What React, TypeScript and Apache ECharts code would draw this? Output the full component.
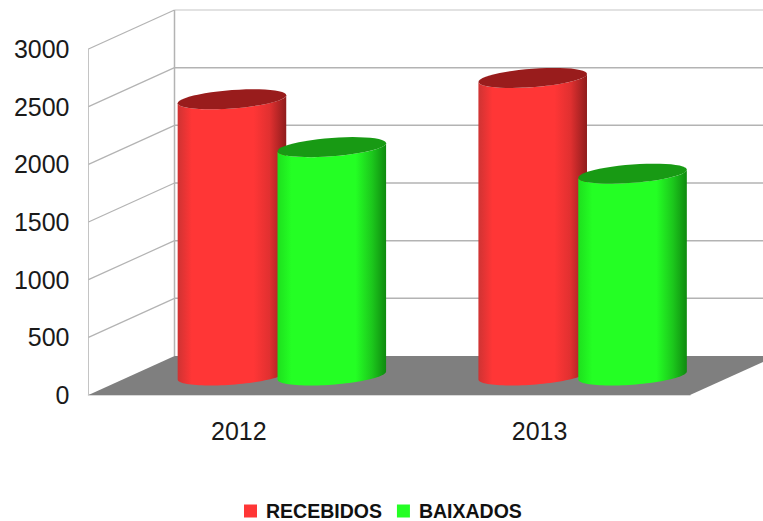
import React, { useEffect, useRef } from "react";
import * as echarts from "echarts";

const categories = ["2012", "2013"];
const yTicks = [0, 500, 1000, 1500, 2000, 2500, 3000];
const recebidos = [2395, 2580];
const baixados = [1980, 1750];

const DEPTH_X = 86;
const DEPTH_Y = -39;
const SLOT_SHIFT = 0.166;
const HALF_WIDTH = 0.1805;
const SLANT = 4;
const ROUND = 9.2;

function ellipsePoints(cx: number, cy: number, hw: number, from: number, to: number) {
  const pts: number[][] = [];
  const n = 48;
  for (let i = 0; i <= n; i++) {
    const t = from + ((to - from) * i) / n;
    pts.push([cx + hw * Math.cos(t), cy - SLANT * Math.cos(t) + ROUND * Math.sin(t)]);
  }
  return pts;
}

function cylinder(side: number, stops: any[], topColor: string) {
  return (params: any, api: any) => {
    const band = api.size([1, 0])[0];
    const top = api.coord([api.value(0), api.value(1)]);
    const base = api.coord([api.value(0), 0]);
    const cx = top[0] + DEPTH_X / 2 + side * SLOT_SHIFT * band;
    const hw = HALF_WIDTH * band;
    const yTop = top[1] + DEPTH_Y / 2;
    const yBase = base[1] + DEPTH_Y / 2;
    const body = [
      ...ellipsePoints(cx, yBase, hw, Math.PI, 0),
      ...ellipsePoints(cx, yTop, hw, 0, Math.PI),
    ];
    return {
      type: "group",
      children: [
        {
          type: "polygon",
          shape: { points: body },
          style: { fill: new echarts.graphic.LinearGradient(0, 0, 1, 0, stops) },
        },
        {
          type: "polygon",
          shape: { points: ellipsePoints(cx, yTop, hw, 0, Math.PI * 2) },
          style: { fill: topColor },
        },
      ],
    };
  };
}

function walls(params: any, api: any) {
  const cs = params.coordSys;
  const v = api.value(1);
  const y = api.coord([0, v])[1];
  const left = cs.x;
  const right = cs.x + cs.width;
  const line = "#b3b3b3";
  const children: any[] = [];
  if (v === 0) {
    children.push({
      type: "polygon",
      shape: {
        points: [
          [left, y],
          [right, y],
          [right + DEPTH_X, y + DEPTH_Y],
          [left + DEPTH_X, y + DEPTH_Y],
        ],
      },
      style: { fill: "#7f7f7f" },
    });
  } else {
    children.push({
      type: "line",
      shape: { x1: left, y1: y, x2: left + DEPTH_X, y2: y + DEPTH_Y },
      style: { stroke: line, lineWidth: 1.2 },
    });
    children.push({
      type: "line",
      shape: { x1: left + DEPTH_X, y1: y + DEPTH_Y, x2: right + DEPTH_X, y2: y + DEPTH_Y },
      style: { stroke: v === 3000 ? "#d9d9d9" : line, lineWidth: 1.5 },
    });
  }
  if (v === 3000) {
    const y0 = api.coord([0, 0])[1];
    children.push({
      type: "line",
      shape: { x1: left + DEPTH_X, y1: y + DEPTH_Y, x2: left + DEPTH_X, y2: y0 + DEPTH_Y },
      style: { stroke: line, lineWidth: 1.5 },
    });
  }
  return { type: "group", children };
}

const redStops = [
  { offset: 0, color: "#cf3333" },
  { offset: 0.13, color: "#ff3636" },
  { offset: 0.7, color: "#ff3636" },
  { offset: 0.85, color: "#e03030" },
  { offset: 1, color: "#8f1c1c" },
];
const greenStops = [
  { offset: 0, color: "#1ee01e" },
  { offset: 0.13, color: "#24ff24" },
  { offset: 0.72, color: "#24ff24" },
  { offset: 0.87, color: "#1cc81c" },
  { offset: 1, color: "#0f8a0f" },
];

export default function App() {
  const ref = useRef<HTMLDivElement>(null);
  useEffect(() => {
    const chart = echarts.init(ref.current!, undefined, { renderer: "svg" });
    chart.setOption({
      animation: false,
      backgroundColor: "#ffffff",
      grid: { left: 88.5, right: 73, top: 49, bottom: 126 },
      xAxis: {
        type: "category",
        data: categories,
        axisTick: { show: false },
        axisLine: { show: true, lineStyle: { color: "#cccccc", width: 1.5 } },
        axisLabel: { color: "#1a1a1a", fontSize: 25, fontFamily: "Liberation Sans", margin: 23 },
      },
      yAxis: {
        type: "value",
        min: 0,
        max: 3000,
        interval: 500,
        splitLine: { show: false },
        axisTick: { show: false },
        axisLine: { show: true, lineStyle: { color: "#c4c4c4", width: 1 } },
        axisLabel: {
          color: "#1a1a1a",
          fontSize: 25,
          fontFamily: "Liberation Sans",
          margin: 19,
          formatter: (v: number) => String(v),
        },
      },
      legend: {
        data: ["RECEBIDOS", "BAIXADOS"],
        left: 239,
        top: 501,
        padding: [0, 5, 0, 5],
        icon: "rect",
        itemWidth: 13,
        itemHeight: 13,
        itemGap: 15,
        textStyle: {
          color: "#111111",
          fontSize: 19.5,
          lineHeight: 20,
          fontWeight: "bold",
          fontFamily: "Liberation Sans",
          padding: [0, 0, 0, 4],
        },
      },
      series: [
        {
          type: "custom",
          silent: true,
          z: 1,
          renderItem: walls,
          data: yTicks.map((v) => [0, v]),
        },
        {
          type: "custom",
          name: "RECEBIDOS",
          z: 2,
          itemStyle: { color: "#ff3636" },
          renderItem: cylinder(-1, redStops, "#991c1c"),
          data: recebidos.map((v, i) => [i, v]),
        },
        {
          type: "custom",
          name: "BAIXADOS",
          z: 3,
          itemStyle: { color: "#24ff24" },
          renderItem: cylinder(1, greenStops, "#189a14"),
          data: baixados.map((v, i) => [i, v]),
        },
      ],
    });
    return () => chart.dispose();
  }, []);
  return <div ref={ref} style={{ position: "fixed", left: 0, top: 0, width: 763, height: 521 }} />;
}
